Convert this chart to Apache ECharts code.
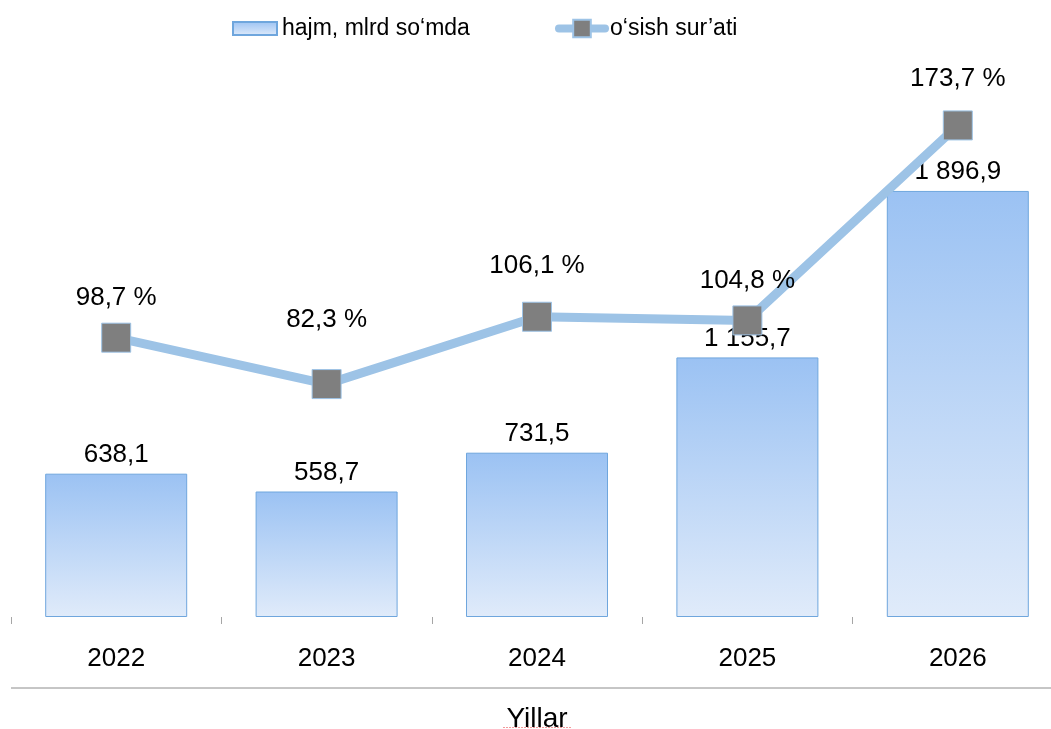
<!DOCTYPE html>
<html>
<head>
<meta charset="utf-8">
<script src="https://cdn.jsdelivr.net/npm/echarts@6/dist/echarts.min.js"></script>
<style>
  html, body { margin: 0; padding: 0; background: #fff; }
  #chart_volume { width: 1051px; height: 729px; }
</style>
</head>
<body>
<div id="chart_volume"></div>
<script>
const years = ['2022', '2023', '2024', '2025', '2026'];
const volume = [638.1, 558.7, 731.5, 1155.7, 1896.9];
const growth = [98.7, 82.3, 106.1, 104.8, 173.7];

const volumeName = 'hajm, mlrd so‘mda';
const growthName = 'o‘sish sur’ati';

// label lift above each marker (layout only)
const growthLabelLift = [40, 64, 51, 40, 47];

const font = "'Liberation Sans', Arial, sans-serif";
const lineColor = '#9dc3e6';

function fmt(v) {
    const parts = v.toFixed(1).split('.');
    return parts[0].replace(/\B(?=(\d{3})+(?!\d))/g, ' ') + ',' + parts[1];
}

function getOptionVolume() {
    return {
        backgroundColor: '#fff',
        animation: false,
        textStyle: { fontFamily: font },
        legend: [
            {
                left: 232,
                top: 17,
                padding: 0,
                icon: 'rect',
                itemWidth: 44,
                itemHeight: 13,
                data: [volumeName],
                textStyle: { fontFamily: font, fontSize: 23, color: '#000' }
            },
            {
                left: 555,
                top: 17,
                padding: 0,
                itemWidth: 46,
                itemHeight: 22,
                lineStyle: { width: 8, cap: 'round' },
                data: [growthName],
                textStyle: { fontFamily: font, fontSize: 23, color: '#000' }
            }
        ],
        grid: { left: 11, right: -12, top: 51, bottom: 112, outerBoundsMode: 'none' },
        xAxis: {
            type: 'category',
            data: years,
            axisLine: { show: false },
            axisTick: { show: true, length: 7, lineStyle: { color: '#a6a6a6', width: 1 } },
            axisLabel: { fontFamily: font, fontSize: 26, color: '#000', margin: 29 },
            name: 'Yillar',
            nameLocation: 'middle',
            nameGap: 88,
            nameTextStyle: { fontFamily: font, fontSize: 28, color: '#000' }
        },
        yAxis: [
            { type: 'value', min: 0, max: 2520, show: false, splitLine: { show: false } },
            { type: 'value', min: 0, max: 200, show: false, splitLine: { show: false } }
        ],
        graphic: [
            {
                type: 'line',
                shape: { x1: 11, y1: 688, x2: 1051, y2: 688 },
                style: { stroke: '#8c8c8c', lineWidth: 1 }
            },
            {
                type: 'line',
                shape: { x1: 503, y1: 727.5, x2: 571, y2: 727.5 },
                style: { stroke: '#f29a9a', lineWidth: 1, lineDash: [2, 1] }
            }
        ],
        series: [
            {
                name: volumeName,
                type: 'bar',
                barWidth: 142,
                data: volume,
                itemStyle: {
                    color: new echarts.graphic.LinearGradient(0, 0, 0, 1, [
                        { offset: 0, color: '#9bc2f3' },
                        { offset: 1, color: '#e0ebfa' }
                    ]),
                    borderColor: '#6fa6dd',
                    borderWidth: 1
                },
                label: {
                    show: true,
                    position: 'top',
                    distance: 6,
                    fontFamily: font,
                    fontSize: 26,
                    color: '#000',
                    formatter: p => fmt(p.value)
                }
            },
            {
                name: growthName,
                type: 'line',
                yAxisIndex: 1,
                symbol: 'rect',
                symbolSize: 29,
                lineStyle: { color: lineColor, width: 9, cap: 'round' },
                itemStyle: { color: '#7f7f7f', borderColor: lineColor, borderWidth: 1 },
                data: growth.map((v, i) => ({
                    value: v,
                    label: { offset: [0, -growthLabelLift[i]] }
                })),
                label: {
                    show: true,
                    position: 'inside',
                    fontFamily: font,
                    fontSize: 26,
                    color: '#000',
                    formatter: p => fmt(p.value) + ' %'
                },
                emphasis: { disabled: true },
                z: 3
            }
        ]
    };
}

const chart = echarts.init(document.getElementById('chart_volume'), null, { renderer: 'canvas' });
chart.setOption(getOptionVolume());
</script>
</body>
</html>
